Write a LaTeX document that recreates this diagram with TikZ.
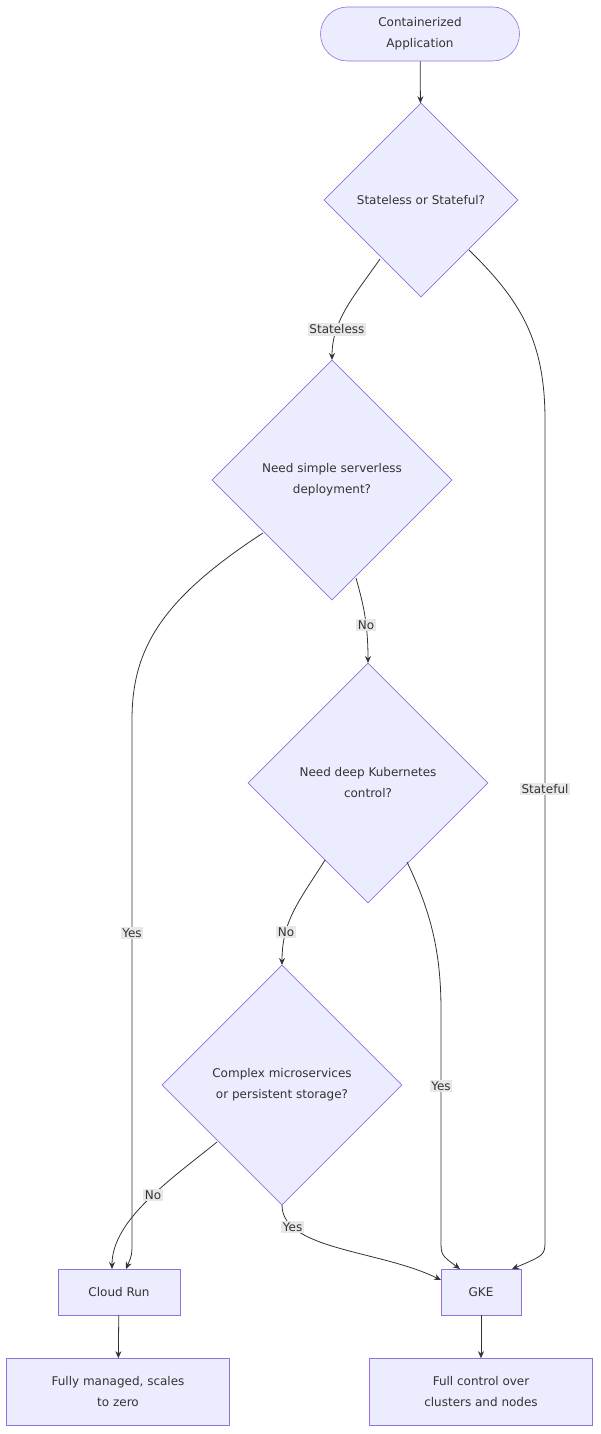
\documentclass[tikz,border=0pt]{standalone}
\usepackage{fontspec}
\setmainfont{DejaVu Sans}
\usetikzlibrary{shapes.geometric,arrows.meta}
\definecolor{nf}{HTML}{ECECFF}
\definecolor{ns}{HTML}{9370DB}
\definecolor{ed}{HTML}{333333}
\definecolor{lb}{HTML}{E8E8E8}
\begin{document}
\begin{tikzpicture}[x=1pt,y=-1pt,
  every node/.style={font=\fontsize{12}{21}\selectfont,text=ed},
  box/.style={draw=ns,fill=nf,line width=0.6pt,align=center,inner sep=0pt},
  dia/.style={box,diamond,shape aspect=1},
  lab/.style={fill=lb,inner sep=1.5pt},
  e/.style={draw=ed,line width=0.8pt,-{Stealth[length=7pt,width=6pt]}}]
\useasboundingbox (0,0) rectangle (600,1434);
\node[box,rounded corners=27pt,minimum width=199pt,minimum height=54pt] (s) at (420,34) {Containerized\\Application};
\node[dia,minimum width=194pt,minimum height=194pt] (d1) at (421,200) {Stateless or Stateful?};
\node[dia,minimum width=240pt,minimum height=240pt] (d2) at (332,480) {Need simple serverless\\deployment?};
\node[dia,minimum width=240pt,minimum height=240pt] (d3) at (368,783) {Need deep Kubernetes\\control?};
\node[dia,minimum width=240pt,minimum height=240pt] (d4) at (282,1085) {Complex microservices\\or persistent storage?};
\node[box,minimum width=122pt,minimum height=46pt] (cr) at (119,1292) {Cloud Run};
\node[box,minimum width=80pt,minimum height=46pt] (gke) at (481,1292) {GKE};
\node[box,minimum width=223pt,minimum height=67pt] (f1) at (118,1392) {Fully managed, scales\\to zero};
\node[box,minimum width=223pt,minimum height=67pt] (f2) at (481,1392) {Full control over\\clusters and nodes};
\coordinate (cr1) at (112,1269); \coordinate (cr2) at (126,1269);
\coordinate (g1) at (441,1280); \coordinate (g2) at (460,1269); \coordinate (g3) at (512,1269);
\draw[e] (s) -- (d1);
\draw[e] (380,259) .. controls (355,295) and (332,320) .. (332,360) node[lab,pos=0.72] {Stateless};
\draw[e] (469,250) .. controls (520,300) and (545,340) .. (545,420) -- (545,1240) node[lab,pos=0.45] {Stateful} .. controls (545,1255) .. (g3);
\draw[e] (263,533) .. controls (160,600) and (132,650) .. (132,720) -- (132,1240) node[lab,pos=0.41] {Yes} .. controls (132,1255) .. (cr2);
\draw[e] (356,578) .. controls (362,600) and (368,620) .. (368,663) node[lab,pos=0.65] {No};
\draw[e] (325,860) .. controls (300,900) and (282,920) .. (282,965) node[lab,pos=0.72] {No};
\draw[e] (407,862) .. controls (430,910) and (441,950) .. (441,1010) -- (441,1240) node[lab,pos=0.33] {Yes} .. controls (441,1255) .. (g2);
\draw[e] (217,1142) .. controls (170,1180) and (112,1220) .. (cr1) node[lab,pos=0.45] {No};
\draw[e] (282,1205) .. controls (282,1250) and (380,1250) .. (g1) node[lab,pos=0.2] {Yes};
\draw[e] (cr) -- (f1);
\draw[e] (gke) -- (f2);
\end{tikzpicture}
\end{document}
